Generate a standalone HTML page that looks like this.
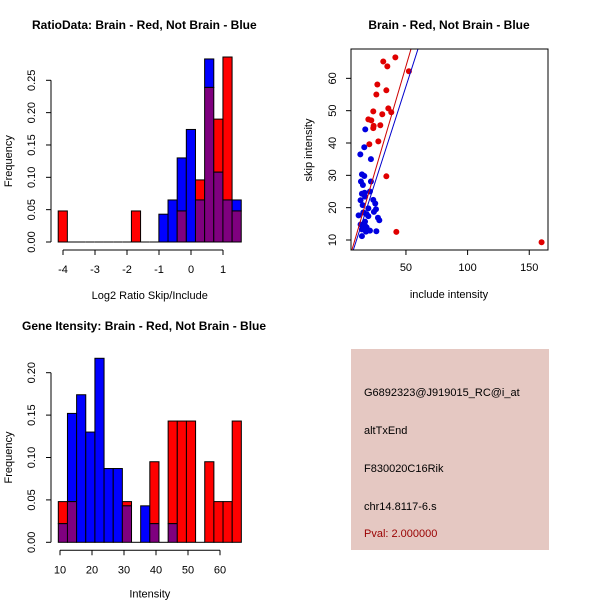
<!DOCTYPE html>
<html><head><meta charset="utf-8"><style>
body{margin:0;background:#fff;}
svg text{font-family:"Liberation Sans",sans-serif;}
</style></head><body>
<svg id="s" width="600" height="600" viewBox="0 0 600 600" xmlns="http://www.w3.org/2000/svg">
<rect width="600" height="600" fill="#fff"/>
<g id="p1"></g>
<g id="p2"></g>
<g id="p3"></g>
<g>
<rect x="351" y="349" width="198" height="201" fill="#E5C8C2"/>
<text x="364" y="396" font-size="11" fill="#000">G6892323@J919015_RC@i_at</text>
<text x="364" y="434" font-size="11" fill="#000">altTxEnd</text>
<text x="364" y="472" font-size="11" fill="#000">F830020C16Rik</text>
<text x="364" y="510" font-size="11" fill="#000">chr14.8117-6.s</text>
<text x="364" y="537" font-size="11" fill="#990000">Pval: 2.000000</text>
</g>
</svg>
<script>
// ---- Ratio histogram data ----
const ratioBinStart = -4.15;
const ratioBinWidth = 0.286;
const ratioRed  = [0.048,0,0,0,0,0,0,0,0.048,0,0,0,0,0.048,0,0.096,0.239,0.19,0.286,0.048];
const ratioBlue = [0,0,0,0,0,0,0,0,0,0,0,0.043,0.065,0.13,0.174,0.065,0.283,0.108,0.065,0.065];
const ratioXTicks = [-4,-3,-2,-1,0,1];
const ratioYTicks = ["0.00","0.05","0.10","0.15","0.20","0.25"];
// ---- Intensity histogram data ----
const intBinStart = 9.47;
const intBinWidth = 2.86;
const intRed  = [0.048,0.048,0,0,0,0,0,0.048,0,0,0.095,0,0.143,0.143,0.143,0,0.095,0.048,0.048,0.143];
const intBlue = [0.022,0.152,0.174,0.13,0.217,0.087,0.087,0.043,0,0.043,0.022,0,0.022,0,0,0,0,0,0,0];
const intXTicks = [10,20,30,40,50,60];
const intYTicks = ["0.00","0.05","0.10","0.15","0.20"];
// ---- Scatter data ----
const redX = [31.6,41.4,34.9,52.4,26.8,34.1,26,35.7,23.5,38.1,30.8,19.5,21.9,23.8,29.2,23.5,27.6,20.3,34.1,42.2,160];
const redY = [65.2,66.5,63.7,62.2,58.1,56.3,55,50.7,49.8,49.5,48.9,47.3,47,45.3,45.5,44.6,40.5,39.6,29.7,12.5,9.3];
const blueX = [17,16.2,13,21.6,14.3,16.2,13.5,21.6,15.1,20.8,14.3,16.5,16.8,13.2,23.5,14.9,25.1,19.5,25.7,24,15.4,11.6,18.1,19.5,27.3,28.4,13.2,16.8,17,14.3,17.6,20.8,26,14.3,18.1];
const blueY = [44.2,38.7,36.5,35,30.3,29.8,28.1,28.1,27,25,24.3,24.6,23.4,22.3,22.4,20.8,21.3,19.8,19.5,18.7,18.5,17.6,18,17.4,16.9,16.1,14.8,15.7,14.3,13.3,12.6,12.9,12.7,11.2,13.9];
const redFit = [-1.1,1.297];   // intercept, slope
const blueFit = [-1.75,1.185];
const scatXTicks = [50,100,150];
const scatYTicks = [10,20,30,40,50,60];

const NS="http://www.w3.org/2000/svg";
function mk(parent,tag,attrs,text){const e=document.createElementNS(NS,tag);for(const k in attrs)e.setAttribute(k,attrs[k]);if(text!==undefined)e.textContent=text;parent.appendChild(e);return e;}

function hist(g,title,xlabel,binStart,binW,red,blue,xTicks,yTicks,sx,y0,ppy,titleX,titleY,yStep,ax,xlOff){
  const x=v=>sx.a+(v-sx.v0)*sx.k;
  const y=v=>y0-v*ppy;
  let t=mk(g,'text',{x:titleX,y:titleY,'font-size':12,'font-weight':'bold'},title);
  
  
  for(let i=0;i<red.length;i++){
    const x0=x(binStart+i*binW),w=binW*sx.k;
    const r=red[i],b=blue[i],lo=Math.min(r,b),hi=Math.max(r,b);
    if(hi>lo){
      const c=r>b?'#FF0000':'#0000FF';
      const e=mk(g,'rect',{x:x0,y:y(hi),width:w,height:y(lo)-y(hi),fill:c,stroke:'#000','stroke-width':1});
      
      
    }
    if(lo>0){
      const e=mk(g,'rect',{x:x0,y:y(lo),width:w,height:y(0)-y(lo),fill:'#7F007F',stroke:'#000','stroke-width':1});
      
      
    }
    if(hi===0){
      const e=mk(g,'line',{x1:x0,x2:x0+w,y1:y(0),y2:y(0),stroke:'#000'});
      
      
    }
  }
  const ya=mk(g,'g',{});
  
  
  const ylast=(yTicks.length-1)*yStep;
  mk(ya,'line',{x1:ax,x2:ax,y1:y(0),y2:y(ylast),stroke:'#000'});
  yTicks.forEach((lab,i)=>{const yy=y(i*yStep);mk(ya,'line',{x1:ax-5,x2:ax,y1:yy,y2:yy,stroke:'#000'});
    mk(ya,'text',{x:ax-16,y:yy,'font-size':11,'text-anchor':'middle',transform:`rotate(-90 ${ax-16} ${yy})`},lab);});
  const yl=mk(g,'text',{x:12,y:(y(0)+y(ylast))/2,'font-size':11,'text-anchor':'middle',transform:`rotate(-90 12 ${(y(0)+y(ylast))/2})`},'Frequency');
  
  
  const xa=mk(g,'g',{});
  
  
  const ay=y0+8;
  mk(xa,'line',{x1:x(xTicks[0]),x2:x(xTicks[xTicks.length-1]),y1:ay,y2:ay,stroke:'#000'});
  xTicks.forEach(v=>{mk(xa,'line',{x1:x(v),x2:x(v),y1:ay,y2:ay+5,stroke:'#000'});
    mk(xa,'text',{x:x(v),y:ay+23,'font-size':11,'text-anchor':'middle'},String(v));});
  const xl=mk(g,'text',{x:(x(binStart+binW*red.length)+x(binStart))/2,y:y0+xlOff,'font-size':11,'text-anchor':'middle'},xlabel);
  
  
}

hist(document.getElementById('p1'),'RatioData: Brain - Red, Not Brain - Blue','Log2 Ratio Skip/Include',
  ratioBinStart,ratioBinWidth,ratioRed,ratioBlue,ratioXTicks,ratioYTicks,{a:63,v0:-4,k:32},242,646.8,32,29,0.05,51,57);
hist(document.getElementById('p3'),'Gene Itensity: Brain - Red, Not Brain - Blue','Intensity',
  intBinStart,intBinWidth,intRed,intBlue,intXTicks,intYTicks,{a:60,v0:10,k:3.2},542.3,848,22,330,0.05,51,55);

(function(){
  const g=document.getElementById('p2');
  const L=351,R=548,T=49,B=250;
  const x=v=>344.3+v*1.233;
  const y=v=>240-(v-10)*3.233;
  let t=mk(g,'text',{x:449,y:29,'font-size':12,'font-weight':'bold','text-anchor':'middle'},'Brain - Red, Not Brain - Blue');
  
  
  mk(g,'defs',{}).innerHTML=`<clipPath id="cp"><rect x="${L}" y="${T}" width="${R-L}" height="${B-T}"/></clipPath>`;
  const pts=mk(g,'g',{'clip-path':'url(#cp)'});
  
  
  redX.forEach((v,i)=>{const c=mk(pts,'circle',{cx:x(v),cy:y(redY[i]),r:3,fill:'#E00000'});
    
    });
  blueX.forEach((v,i)=>{const c=mk(pts,'circle',{cx:x(v),cy:y(blueY[i]),r:3,fill:'#0000E0'});
    
    });
  [[redFit,'#CC0000','fit-line-red'],[blueFit,'#0000CC','fit-line-blue']].forEach(([f,c,n])=>{
    const l=mk(pts,'line',{x1:x(0),y1:y(f[0]),x2:x(200),y2:y(f[0]+f[1]*200),stroke:c,'stroke-width':1});
    
    });
  const box=mk(g,'rect',{x:L,y:T,width:R-L,height:B-T,fill:'none',stroke:'#000'});
  
  
  const xa=mk(g,'g',{});
  
  
  scatXTicks.forEach(v=>{mk(xa,'line',{x1:x(v),x2:x(v),y1:B,y2:B+5,stroke:'#000'});
    mk(xa,'text',{x:x(v),y:B+21,'font-size':11,'text-anchor':'middle'},String(v));});
  const ya=mk(g,'g',{});
  
  
  scatYTicks.forEach(v=>{const yy=y(v);mk(ya,'line',{x1:L-5,x2:L,y1:yy,y2:yy,stroke:'#000'});
    mk(ya,'text',{x:L-15,y:yy,'font-size':11,'text-anchor':'middle',transform:`rotate(-90 ${L-15} ${yy})`},String(v));});
  const xl=mk(g,'text',{x:449,y:298,'font-size':11,'text-anchor':'middle'},'include intensity');
  
  
  const yl=mk(g,'text',{x:312,y:150,'font-size':11,'text-anchor':'middle',transform:'rotate(-90 312 150)'},'skip intensity');
  
  
})();
</script>
</body></html>
